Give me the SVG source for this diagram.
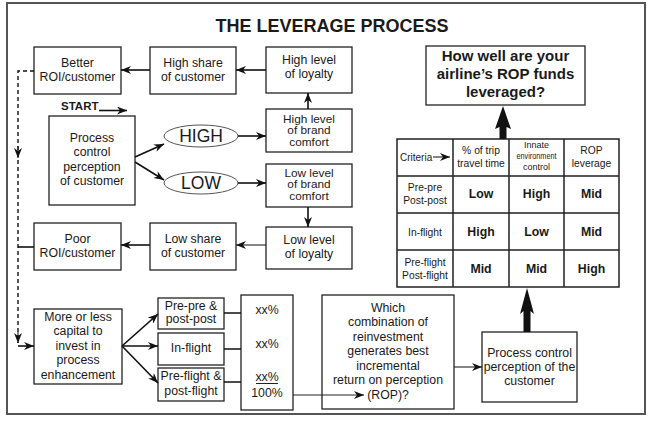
<svg xmlns="http://www.w3.org/2000/svg" width="650" height="423" viewBox="0 0 650 423">
<style>
text{font-family:"Liberation Sans",Arial,sans-serif;fill:#1a1a1a;text-anchor:middle}
.t{font-size:12.3px}
.tb{font-size:11.8px}
.s{font-size:10.3px}
.xs{font-size:9px}
.b{font-weight:bold}
.box{fill:#fff;stroke:#222;stroke-width:1.3}
.ell{fill:#fff;stroke:#555;stroke-width:1}
.c{fill:none;stroke:#111;stroke-width:1.6}
.cl{fill:none;stroke:#222;stroke-width:1.1}
.grid{fill:none;stroke:#222;stroke-width:1.5}
</style>
<defs>
<marker id="ah" viewBox="0 0 10 8" refX="10" refY="4" markerWidth="11" markerHeight="8" markerUnits="userSpaceOnUse" orient="auto"><path d="M0,0 L10,4 L0,8 L3,4 z" fill="#111"/></marker>
</defs>
<rect x="0" y="0" width="650" height="423" fill="#fff"/>
<rect x="7" y="3" width="638" height="411" fill="#fff" stroke="#555" stroke-width="2"/>
<text x="332" y="31.5" class="b" style="font-size:18px">THE LEVERAGE PROCESS</text>

<g id="better-roi"><rect class="box" x="34" y="47" width="87" height="47"/><text class="t" x="77.5" y="67">Better</text><text class="t" x="77.5" y="81">ROI/customer</text></g>
<g id="high-share"><rect class="box" x="150" y="47" width="86" height="47"/><text class="t" x="193" y="67">High share</text><text class="t" x="193" y="81">of customer</text></g>
<g id="high-loyalty"><rect class="box" x="266" y="47" width="86" height="46"/><text class="t" x="309" y="64">High level</text><text class="t" x="309" y="78">of loyalty</text></g>
<g id="start"><text class="b" x="61" y="110" style="font-size:11.5px;text-anchor:start">START</text></g>
<g id="process-control"><rect class="box" x="49" y="116" width="86" height="89"/><text class="t" x="92" y="142">Process</text><text class="t" x="92" y="156">control</text><text class="t" x="92" y="170.5">perception</text><text class="t" x="92" y="185">of customer</text></g>
<g id="high"><ellipse class="ell" cx="201" cy="136" rx="37" ry="11"/><text x="201" y="142.3" style="font-size:17.5px">HIGH</text></g>
<g id="low"><ellipse class="ell" cx="201" cy="183" rx="37" ry="11"/><text x="201" y="189.3" style="font-size:17.5px">LOW</text></g>
<g id="high-brand"><rect class="box" x="266" y="109" width="86" height="43"/><text class="tb" x="309" y="122.5">High level</text><text class="tb" x="309" y="134">of brand</text><text class="tb" x="309" y="145.5">comfort</text></g>
<g id="low-brand"><rect class="box" x="266" y="164" width="86" height="43"/><text class="tb" x="309" y="176.5">Low level</text><text class="tb" x="309" y="188">of brand</text><text class="tb" x="309" y="199.5">comfort</text></g>
<g id="low-loyalty"><rect class="box" x="266" y="227" width="86" height="42"/><text class="t" x="309" y="244">Low level</text><text class="t" x="309" y="258">of loyalty</text></g>
<g id="low-share"><rect class="box" x="150" y="223" width="86" height="47"/><text class="t" x="193" y="243">Low share</text><text class="t" x="193" y="257">of customer</text></g>
<g id="poor-roi"><rect class="box" x="34" y="223" width="87" height="47"/><text class="t" x="77.5" y="243">Poor</text><text class="t" x="77.5" y="257">ROI/customer</text></g>
<g id="capital"><rect class="box" x="34" y="309" width="88" height="75"/><text class="t" x="78" y="321">More or less</text><text class="t" x="78" y="335">capital to</text><text class="t" x="78" y="350">invest in</text><text class="t" x="78" y="364">process</text><text class="t" x="78" y="379">enhancement</text></g>
<g id="pre-pre"><rect class="box" x="158" y="298" width="66" height="31"/><text class="t" x="191" y="310">Pre-pre &amp;</text><text class="t" x="191" y="323">post-post</text></g>
<g id="in-flight"><rect class="box" x="158" y="333" width="66" height="32"/><text class="t" x="191" y="352">In-flight</text></g>
<g id="pre-flight"><rect class="box" x="158" y="368" width="66" height="33"/><text class="t" x="191" y="380">Pre-flight &amp;</text><text class="t" x="191" y="395">post-flight</text></g>
<g id="percent"><rect class="box" x="241" y="295" width="52" height="115"/><text class="t" x="267" y="314">xx%</text><text class="t" x="267" y="348">xx%</text><text class="t" x="267" y="381">xx%</text><path d="M256,383.5 H278" stroke="#222" stroke-width="1"/><text class="t" x="267" y="397">100%</text></g>
<g id="which"><rect class="box" x="322" y="295" width="132" height="114"/><text class="t" x="388" y="311.5">Which</text><text class="t" x="388" y="325.5">combination of</text><text class="t" x="388" y="340.5">reinvestment</text><text class="t" x="388" y="355">generates best</text><text class="t" x="388" y="370">incremental</text><text class="t" x="388" y="384">return on perception</text><text class="t" x="388" y="399">(ROP)?</text></g>
<g id="process-customer"><rect class="box" x="482" y="332" width="95" height="70"/><text class="t" x="529.5" y="356.5">Process control</text><text class="t" x="529.5" y="370.5">perception of the</text><text class="t" x="529.5" y="385">customer</text></g>
<g id="question"><rect class="box" x="426" y="46" width="159" height="59"/><text class="b" x="505.5" y="61" style="font-size:15px">How well are your</text><text class="b" x="505.5" y="79" style="font-size:15px">airline’s ROP funds</text><text class="b" x="505.5" y="97" style="font-size:15px">leveraged?</text></g>
<g id="table">
<rect x="397" y="139" width="222" height="148" fill="#fff" stroke="#222" stroke-width="1.5"/>
<path class="grid" d="M397,176 H619 M397,213 H619 M397,250 H619 M453,139 V287 M509,139 V287 M564,139 V287"/>
<text x="400" y="160.5" style="font-size:10px;text-anchor:start">Criteria</text>
<text class="s" x="481" y="153.5">% of trip</text><text class="s" x="481" y="166.5">travel time</text>
<text class="xs" x="536.5" y="148">Innate</text><text class="xs" x="536.5" y="159" textLength="40" lengthAdjust="spacingAndGlyphs">environment</text><text class="xs" x="536.5" y="170">control</text>
<text class="s" x="591.5" y="153.5">ROP</text><text class="s" x="591.5" y="166.5">leverage</text>
<text class="s" x="425" y="190.5">Pre-pre</text><text class="s" x="425" y="203.5">Post-post</text>
<text class="t b" x="481" y="197.5">Low</text><text class="t b" x="536.5" y="197.5">High</text><text class="t b" x="591.5" y="197.5">Mid</text>
<text class="s" x="425" y="235.5">In-flight</text>
<text class="t b" x="481" y="235.5">High</text><text class="t b" x="536.5" y="235.5">Low</text><text class="t b" x="591.5" y="235.5">Mid</text>
<text class="s" x="425" y="265.5">Pre-flight</text><text class="s" x="425" y="278.5">Post-flight</text>
<text class="t b" x="481" y="272.5">Mid</text><text class="t b" x="536.5" y="272.5">Mid</text><text class="t b" x="591.5" y="272.5">High</text>
</g>

<g id="connectors">
<path class="c" d="M266,70 H236" marker-end="url(#ah)"/>
<path class="c" d="M150,70 H121" marker-end="url(#ah)"/>
<path class="c" d="M99,110.5 H127" marker-end="url(#ah)"/>
<path class="c" d="M135,157 L164,144" marker-end="url(#ah)"/>
<path class="c" d="M135,162 L164,180" marker-end="url(#ah)"/>
<path class="c" d="M238,136 H266" marker-end="url(#ah)"/>
<path class="c" d="M238,183 H266" marker-end="url(#ah)"/>
<path class="c" d="M308,109 V93" marker-end="url(#ah)"/>
<path class="c" d="M308,207 V227" marker-end="url(#ah)"/>
<path class="cl" d="M266,245 H236" marker-end="url(#ah)"/>
<path class="c" d="M150,245 H121" marker-end="url(#ah)"/>
<path fill="none" stroke="#111" stroke-width="1.4" stroke-dasharray="4 3" d="M34,71 H18 V343"/>
<path class="cl" d="M18,146 V158" marker-end="url(#ah)"/>
<path class="cl" d="M18,332 V343" marker-end="url(#ah)"/>
<path class="c" d="M34,247 H18"/>
<path class="c" d="M18,346 H34" marker-end="url(#ah)"/>
<path class="c" d="M122,346 L158,314" marker-end="url(#ah)"/>
<path class="c" d="M122,346 H158" marker-end="url(#ah)"/>
<path class="c" d="M122,346 L158,383" marker-end="url(#ah)"/>
<path class="c" d="M224,313 H241 M224,349 H241 M224,382 H241"/>
<path class="cl" d="M293,395 H364" marker-end="url(#ah)"/>
<path class="cl" d="M454,367 H482" marker-end="url(#ah)"/>
<polygon fill="#111" points="503,106 511,129 506.5,127 506.5,139 499.5,139 499.5,127 495,129"/>
<polygon fill="#111" points="527,288 534,314 530.5,311 530.5,332 523.5,332 523.5,311 520,314"/>
<path class="cl" d="M433,157 H450" marker-end="url(#ah)"/>
</g>
</svg>
